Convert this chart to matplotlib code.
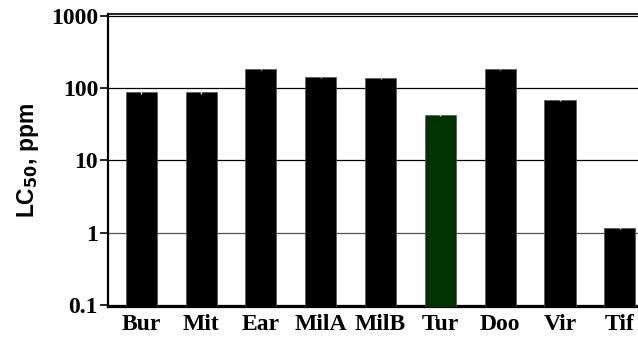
import numpy as np
import matplotlib
matplotlib.use("Agg")
import matplotlib.pyplot as plt

# LC50 per population (ppm), with standard errors
populations = ["Bur", "Mit", "Ear", "MilA", "MilB", "Tur", "Doo", "Vir", "Tif"]
lc50 = [88, 88, 182, 141, 137, 43, 182, 68, 1.15]
lc50_err = [6, 6, 5, 4, 3, 2, 4, 2, 0.04]
bar_colors = ["black"] * 5 + ["#003300"] + ["black"] * 3

ytick_vals = [0.1, 1, 10, 100, 1000]
ytick_labels = ["0.1", "1", "10", "100", "1000"]

fig = plt.figure(figsize=(6.38, 3.42), dpi=100)
ax = fig.add_axes([0.169, 0.1023, 0.84, 0.857])

ax.set_yscale("log")
ylo, yhi = 0.1 * 10 ** (-2 / 73.0), 1000 * 10 ** (2 / 73.0)
ax.set_ylim(ylo, yhi)
ax.set_xlim(-0.56, 8.4)

x = np.arange(len(populations))
ax.bar(x, np.array(lc50) - ylo, bottom=ylo, width=0.52, color=bar_colors,
       edgecolor="#555555", linewidth=0.5, zorder=3)
ax.errorbar(x, lc50, yerr=lc50_err, fmt="none", ecolor="#dddddd",
            elinewidth=1, capsize=0, zorder=4)

for v in ytick_vals:
    ax.axhline(v, color="black" if v != 1 else "#555555", lw=0.9, zorder=1)

ax.set_yticks(ytick_vals)
ax.set_yticklabels(ytick_labels)
ax.yaxis.set_minor_locator(matplotlib.ticker.NullLocator())
ax.set_xticks(x)
ax.set_xticklabels(populations)

for lbl in ax.get_yticklabels() + ax.get_xticklabels():
    lbl.set_fontfamily("Liberation Serif")
    lbl.set_fontweight("bold")
    lbl.set_fontsize(17)

ax.tick_params(axis="y", length=6, width=1.2, pad=1)
ax.tick_params(axis="x", length=0, pad=5)

ax.spines["right"].set_visible(False)
ax.spines["left"].set_linewidth(1.6)
ax.spines["top"].set_linewidth(1.2)
ax.spines["bottom"].set_linewidth(1.6)

ax.set_ylabel("LC$_{\\mathbf{50}}$, ppm", fontfamily="Liberation Sans",
              fontweight="bold", fontsize=16.5, labelpad=7)

fig.savefig("out.png", dpi=100)
